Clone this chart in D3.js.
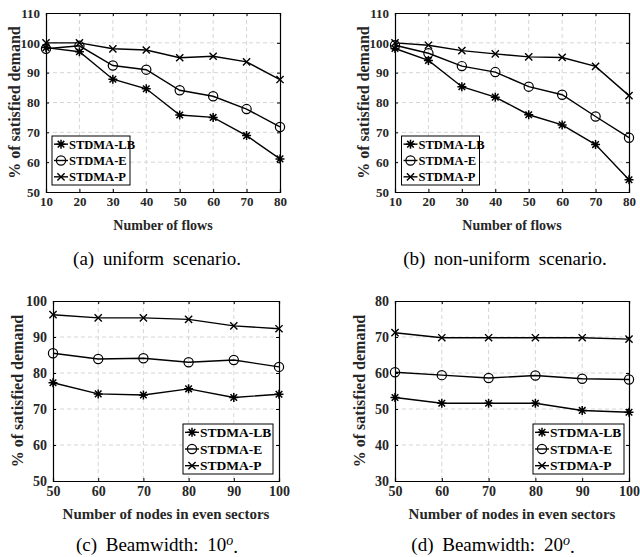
<!DOCTYPE html>
<html>
<head>
<meta charset="utf-8">
<script src="https://cdn.jsdelivr.net/npm/d3@7"></script>
<style>
  body { margin: 0; background: #fff; }
  svg text { font-family: "Liberation Serif", "Times New Roman", serif; }
</style>
</head>
<body>
<div id="chart"></div>
<script>
// 1. DATA
const seriesNames = ["STDMA-LB", "STDMA-E", "STDMA-P"]
const flows = [10, 20, 30, 40, 50, 60, 70, 80]
const nodes = [50, 60, 70, 80, 90, 100]

const uniformLB = [98.4, 97.0, 87.8, 84.6, 75.8, 75.0, 68.9, 61.1]
const uniformE  = [98.0, 99.0, 92.4, 91.0, 84.1, 82.1, 77.8, 71.8]
const uniformP  = [100, 100, 98.0, 97.6, 95.0, 95.5, 93.6, 87.7]

const nonUniformLB = [98.1, 94.1, 85.3, 81.8, 75.9, 72.5, 65.9, 54.1]
const nonUniformE  = [99.2, 96.5, 92.2, 90.2, 85.3, 82.6, 75.3, 68.2]
const nonUniformP  = [100, 99.2, 97.4, 96.3, 95.3, 95.1, 92.1, 82.3]

const beam10LB = [77.3, 74.2, 73.9, 75.6, 73.2, 74.1]
const beam10E  = [85.5, 83.9, 84.1, 83.0, 83.6, 81.7]
const beam10P  = [96.2, 95.3, 95.3, 94.9, 93.1, 92.3]

const beam20LB = [53.2, 51.6, 51.6, 51.6, 49.6, 49.1]
const beam20E  = [60.2, 59.4, 58.6, 59.3, 58.4, 58.2]
const beam20P  = [71.2, 69.8, 69.8, 69.8, 69.8, 69.4]

const yTicksFlows = [50, 60, 70, 80, 90, 100, 110]
const yTicksBeam10 = [50, 60, 70, 80, 90, 100]
const yTicksBeam20 = [30, 40, 50, 60, 70, 80]

const xTitles = ["Number of flows", "Number of nodes in even sectors"]
const yTitle = "% of satisfied demand"

// 2. DIMENSIONS / PANELS
const width = 640, height = 557
const serif = "'Liberation Serif', 'Times New Roman', serif"

const panels = [
  { x: flows, ys: [uniformLB, uniformE, uniformP], yTicks: yTicksFlows,
    xTitle: xTitles[0], cap: ["(a) uniform scenario.", null, ""],
    box: { left: 46, top: 13, right: 280, bottom: 192 },
    legend: { x: 52, y: 136, w: 78, h: 49 }, font: 13, capX: 157, capY: 265 },
  { x: flows, ys: [nonUniformLB, nonUniformE, nonUniformP], yTicks: yTicksFlows,
    xTitle: xTitles[0], cap: ["(b) non-uniform scenario.", null, ""],
    box: { left: 395, top: 13, right: 629, bottom: 192 },
    legend: { x: 401.5, y: 136, w: 78, h: 49 }, font: 13, capX: 505, capY: 265 },
  { x: nodes, ys: [beam10LB, beam10E, beam10P], yTicks: yTicksBeam10,
    xTitle: xTitles[1], cap: ["(c) Beamwidth: 10", "o", "."],
    box: { left: 53, top: 301, right: 279, bottom: 481 },
    legend: { x: 183, y: 424, w: 90, h: 50 }, font: 14, capX: 157, capY: 551 },
  { x: nodes, ys: [beam20LB, beam20E, beam20P], yTicks: yTicksBeam20,
    xTitle: xTitles[1], cap: ["(d) Beamwidth: 20", "o", "."],
    box: { left: 395, top: 301, right: 629, bottom: 481 },
    legend: { x: 533, y: 424, w: 91, h: 50 }, font: 14, capX: 493, capY: 551 },
]

// 3. DRAW CANVAS
const svg = d3.select("#chart").append("svg")
  .attr("width", width)
  .attr("height", height)
  .style("display", "block")

// markers
function drawMarker(g, type, cx, cy) {
  if (type === 0) {
    const s = 4.5, d = 3.3
    g.append("path")
      .attr("d", `M${cx - s},${cy}H${cx + s}M${cx},${cy - s}V${cy + s}`
        + `M${cx - d},${cy - d}L${cx + d},${cy + d}M${cx - d},${cy + d}L${cx + d},${cy - d}`)
      .attr("stroke", "#000").attr("stroke-width", 1.5).attr("fill", "none")
  } else if (type === 1) {
    g.append("circle")
      .attr("cx", cx).attr("cy", cy).attr("r", 4.6)
      .attr("fill", "none").attr("stroke", "#000").attr("stroke-width", 1.2)
  } else {
    const d = 3.6
    g.append("path")
      .attr("d", `M${cx - d},${cy - d}L${cx + d},${cy + d}M${cx - d},${cy + d}L${cx + d},${cy - d}`)
      .attr("stroke", "#000").attr("stroke-width", 1.4).attr("fill", "none")
  }
}

panels.forEach(p => {
  const b = p.box
  const g = svg.append("g")

  // 4. SCALES
  const xScale = d3.scaleLinear()
    .domain(d3.extent(p.x))
    .range([b.left, b.right])
  const yScale = d3.scaleLinear()
    .domain(d3.extent(p.yTicks))
    .range([b.bottom, b.top])

  // grid
  g.append("g").selectAll("line")
    .data(p.x.slice(1, -1))
    .join("line")
    .attr("x1", d => xScale(d)).attr("x2", d => xScale(d))
    .attr("y1", b.top).attr("y2", b.bottom)
    .attr("stroke", "#d6d6d6").attr("stroke-dasharray", "4,3").attr("stroke-width", 1)
  g.append("g").selectAll("line")
    .data(p.yTicks.slice(1, -1))
    .join("line")
    .attr("y1", d => yScale(d)).attr("y2", d => yScale(d))
    .attr("x1", b.left).attr("x2", b.right)
    .attr("stroke", "#d6d6d6").attr("stroke-dasharray", "4,3").attr("stroke-width", 1)

  // axes (inward ticks, MATLAB style)
  const xAxis = g.append("g")
    .attr("transform", `translate(0,${b.bottom})`)
    .call(d3.axisBottom(xScale).tickValues(p.x).tickSize(-3).tickPadding(7))
  const xAxisTop = g.append("g")
    .attr("transform", `translate(0,${b.top})`)
    .call(d3.axisTop(xScale).tickValues(p.x).tickSize(-3).tickFormat(""))
  const yAxis = g.append("g")
    .attr("transform", `translate(${b.left},0)`)
    .call(d3.axisLeft(yScale).tickValues(p.yTicks).tickSize(-3).tickPadding(6))
  const yAxisRight = g.append("g")
    .attr("transform", `translate(${b.right},0)`)
    .call(d3.axisRight(yScale).tickValues(p.yTicks).tickSize(-3).tickFormat(""))

  ;[xAxis, xAxisTop, yAxis, yAxisRight].forEach(a => {
    a.attr("font-family", null).attr("font-size", null)
    a.select(".domain").attr("stroke", "#000").attr("stroke-width", 1.2)
    a.selectAll(".tick line").attr("stroke", "#000").attr("stroke-width", 1)
    a.selectAll("text")
      .attr("fill", "#262626")
      .style("font-family", serif)
      .style("font-weight", "bold")
      .style("font-size", `${p.font}px`)
  })
  xAxis.selectAll("text").attr("dy", "0.55em")

  // axis titles
  g.append("text")
    .attr("x", (b.left + b.right) / 2)
    .attr("y", b.bottom + 38)
    .attr("text-anchor", "middle")
    .attr("fill", "#262626")
    .style("font-family", serif)
    .style("font-weight", "bold")
    .style("font-size", `${p.font + 1}px`)
    .text(p.xTitle)

  g.append("text")
    .attr("transform", `translate(${b.left - 26 - (p.font === 14 ? 4 : 0)},${(b.top + b.bottom) / 2}) rotate(-90)`)
    .attr("text-anchor", "middle")
    .attr("fill", "#262626")
    .style("font-family", serif)
    .style("font-weight", "bold")
    .style("font-size", "16px")
    .text(yTitle)

  // 5. DRAW DATA
  const line = d3.line()
    .x((d, i) => xScale(p.x[i]))
    .y(d => yScale(d))

  p.ys.forEach((series, si) => {
    g.append("path")
      .datum(series)
      .attr("d", line)
      .attr("fill", "none")
      .attr("stroke", "#000")
      .attr("stroke-width", 1.4)
    series.forEach((v, i) => drawMarker(g, si, xScale(p.x[i]), yScale(v)))
  })

  // 6. LEGEND
  const L = p.legend
  g.append("rect")
    .attr("x", L.x).attr("y", L.y)
    .attr("width", L.w).attr("height", L.h)
    .attr("fill", "#fff").attr("stroke", "#000").attr("stroke-width", 1)
  const step = L.h / 3
  seriesNames.forEach((name, i) => {
    const cy = L.y + step * (i + 0.5)
    g.append("line")
      .attr("x1", L.x + 2).attr("x2", L.x + 16)
      .attr("y1", cy).attr("y2", cy)
      .attr("stroke", "#000").attr("stroke-width", 1.4)
    drawMarker(g, i, L.x + 9, cy)
    g.append("text")
      .attr("x", L.x + 17)
      .attr("y", cy)
      .attr("dy", "0.35em")
      .attr("fill", "#000")
      .style("font-family", serif)
      .style("font-weight", "bold")
      .style("font-size", `${p.font - 0.5}px`)
      .text(name)
  })

  // caption
  const cap = g.append("text")
    .attr("x", p.capX)
    .attr("y", p.capY)
    .attr("text-anchor", "middle")
    .attr("fill", "#000")
    .style("font-family", serif)
    .style("font-size", "19px")
    .style("word-spacing", "4px")
  cap.append("tspan").text(p.cap[0])
  if (p.cap[1]) {
    cap.append("tspan").attr("dy", "-0.45em").style("font-size", "14px")
      .style("font-style", "italic").text(p.cap[1])
    cap.append("tspan").attr("dy", "0.45em").text(p.cap[2])
  }
})
</script>
</body>
</html>
